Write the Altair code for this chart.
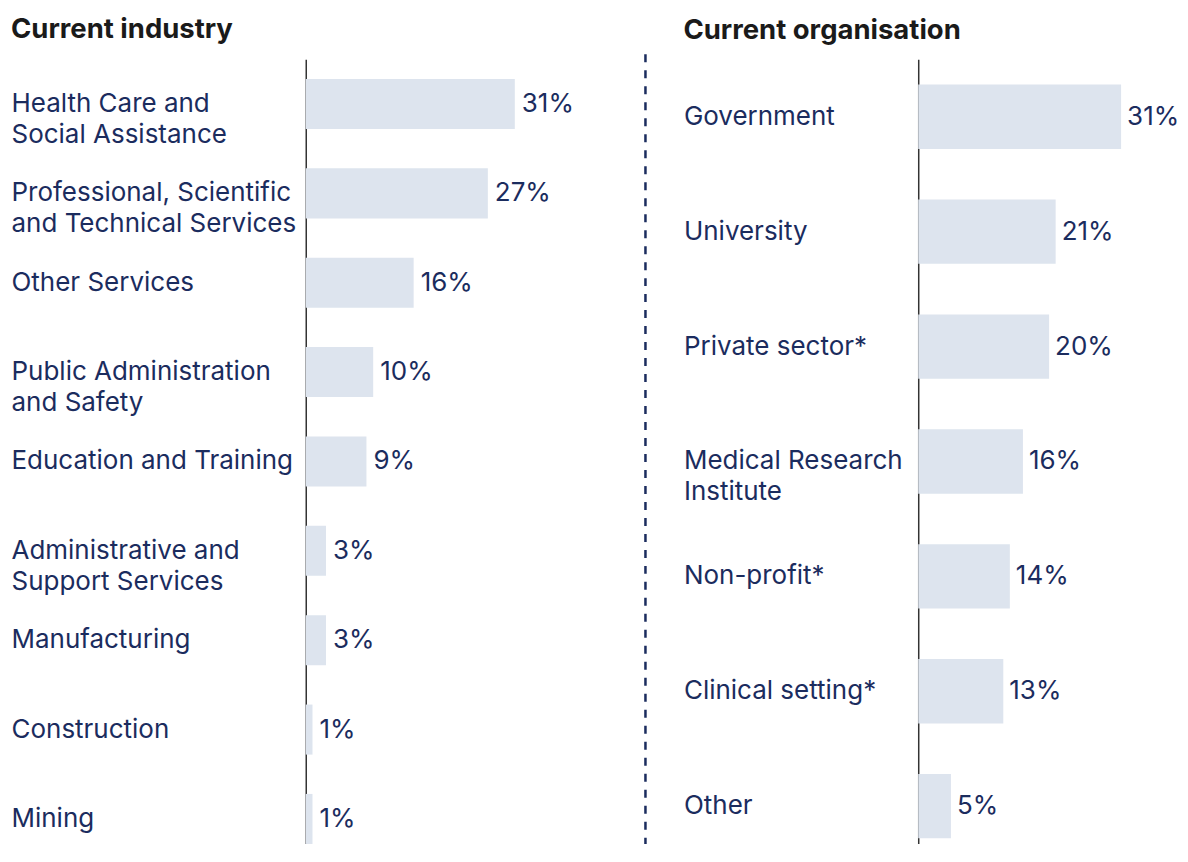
import altair as alt
import pandas as pd

industry = [
    "Health Care and\nSocial Assistance",
    "Professional, Scientific\nand Technical Services",
    "Other Services",
    "Public Administration\nand Safety",
    "Education and Training",
    "Administrative and\nSupport Services",
    "Manufacturing",
    "Construction",
    "Mining",
]
industry_pct = [31, 27, 16, 10, 9, 3, 3, 1, 1]

organisation = [
    "Government",
    "University",
    "Private sector*",
    "Medical Research\nInstitute",
    "Non-profit*",
    "Clinical setting*",
    "Other",
]
organisation_pct = [31, 21, 20, 16, 14, 13, 5]

NAVY = "#1b2c5e"
BAR = "#dde4ee"
FONT = "Inter"

df_ind = pd.DataFrame({"cat": industry, "pct": industry_pct})
df_org = pd.DataFrame({"cat": organisation, "pct": organisation_pct})


def panel(df, cats, title, label_pad, width, xmax, rule_x, rule_opacity, dx):
    y_axis = alt.Axis(
        title=None,
        ticks=False,
        tickSize=0,
        domainColor="#333333",
        domainWidth=1.5,
        labelAlign="left",
        labelBaseline="middle",
        labelPadding=label_pad,
        labelLineHeight=31,
        labelLimit=500,
        labelExpr="split(datum.label, '\\n')",
    )
    y = alt.Y("cat:N", sort=cats, axis=y_axis,
              scale=alt.Scale(paddingInner=0.44, paddingOuter=0.22))
    x = alt.X("pct:Q", axis=None, scale=alt.Scale(domain=[0, xmax]))
    base = alt.Chart(df).encode(y=y, x=x)
    bars = base.mark_bar(color=BAR)
    text = base.transform_calculate(lbl="datum.pct + '%'").mark_text(
        align="left", baseline="middle", dx=dx, fontSize=26, font=FONT, color=NAVY
    ).encode(text="lbl:N")
    divider = alt.Chart(pd.DataFrame({"d": [0]})).mark_rule(
        color=NAVY, strokeWidth=2.5, strokeDash=[8, 8], opacity=rule_opacity
    ).encode(x=alt.value(rule_x), y=alt.value(-5), y2=alt.value(805))
    return alt.layer(bars, text, divider).properties(
        width=width, height=805,
        title=alt.TitleParams(title, anchor="start", frame="bounds"),
    )


left = panel(df_ind, industry, "Current industry", 295, 270, 40, 340, 1, 7)
right = panel(df_org, organisation, "Current organisation", 235, 258, 39.39, 0, 0, 6)

chart = alt.hconcat(left, right, spacing=36).properties(
    padding={"left": 3, "top": 7, "right": 0, "bottom": -22}
).configure_view(stroke=None).configure_title(
    font=FONT, fontSize=27.5, fontWeight="bold", color="#1a1a1a", offset=10
).configure_axis(labelFont=FONT, labelFontSize=26, labelColor=NAVY)

chart.save("out.html", embed_options={"renderer": "svg", "actions": False})
